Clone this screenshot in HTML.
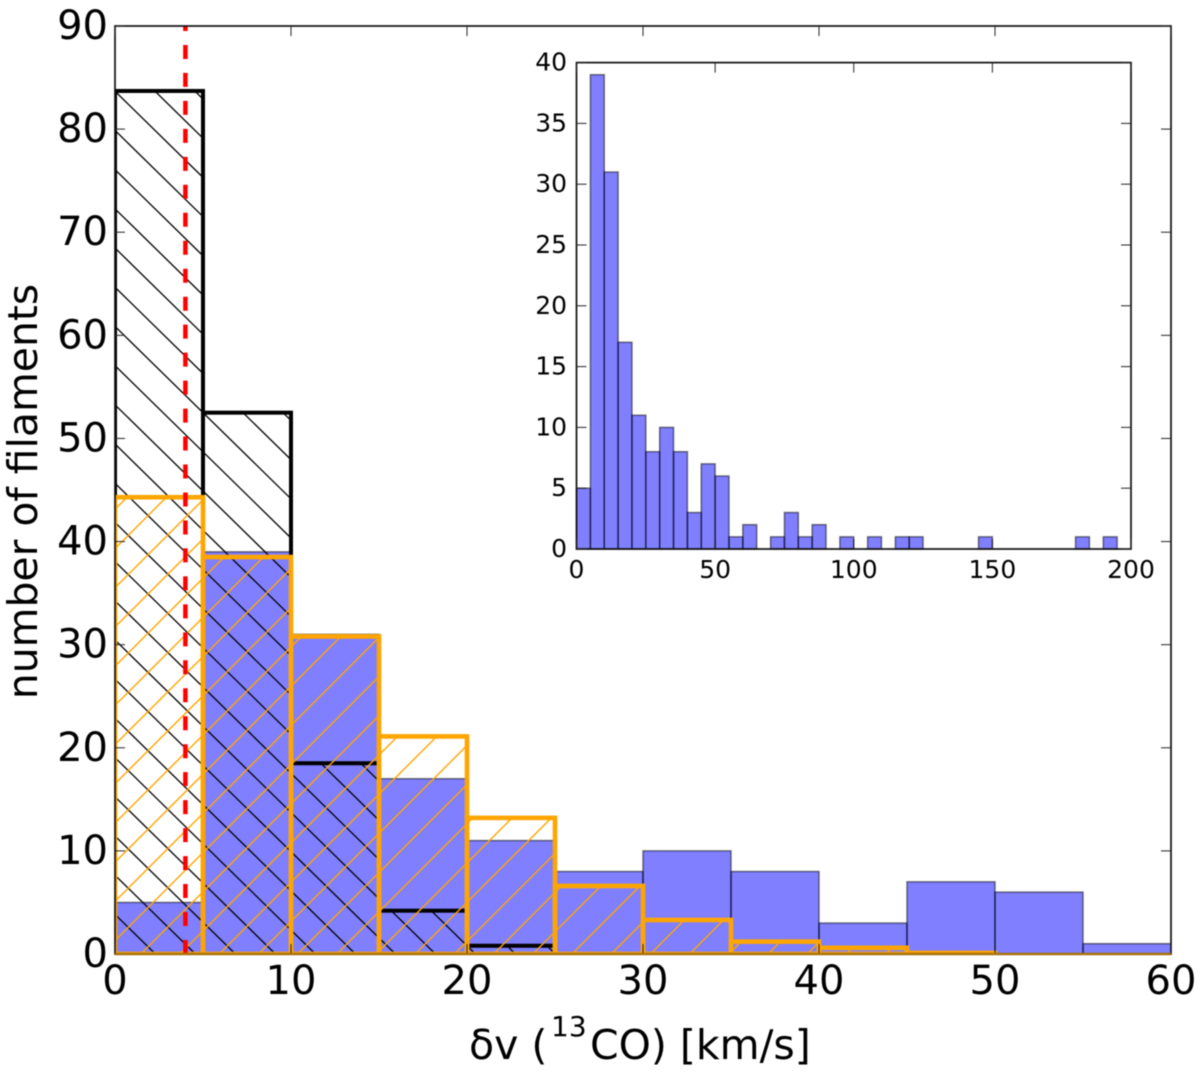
<!DOCTYPE html>
<html lang="en">
<head>
<meta charset="utf-8">
<title>Filament velocity histogram</title>
<style>
html,body{margin:0;padding:0;background:#fff;width:1200px;height:1074px;overflow:hidden;}
svg{display:block;filter:blur(0.45px);}
text{font-family:"DejaVu Sans","Liberation Sans",sans-serif;fill:#000;}
</style>
</head>
<body>
<svg id="chart" xmlns="http://www.w3.org/2000/svg" width="1200" height="1074" viewBox="0 0 1200 1074">
  <defs>
    <clipPath id="clip-black"></clipPath>
    <clipPath id="clip-orange"></clipPath>
    <clipPath id="clip-axes"><rect x="115" y="26" width="1056" height="928"></rect></clipPath>
  </defs>
  <g id="main-plot"></g>
  <g id="inset-plot"></g>
  <text transform="translate(37,491.5) rotate(-90)" text-anchor="middle" font-size="40.9">number of filaments</text>
  <g>
    <text x="469" y="1059" font-size="41">δv (</text>
    <text x="551" y="1036" font-size="28">13</text>
    <text x="590" y="1059" font-size="41">CO) [km/s]</text>
  </g>
</svg>
<script>
// Main histogram values (counts per 5 km/s bin)
const binWidth = 5;
const blueCounts = [5, 39, 31, 17, 11, 8, 10, 8, 3, 7, 6, 1];
const blackCounts = [83.7, 52.5, 18.5, 4.2, 0.8, 0, 0, 0, 0, 0, 0, 0];
const orangeCounts = [44.3, 38.5, 30.8, 21.1, 13.2, 6.6, 3.3, 1.2, 0.6, 0.1, 0, 0];
const thresholdValue = 4;
const mainXTicks = [0, 10, 20, 30, 40, 50, 60];
const mainYTicks = [0, 10, 20, 30, 40, 50, 60, 70, 80, 90];
// Inset histogram values (full range, 5 km/s bins)
const insetCounts = [5, 39, 31, 17, 11, 8, 10, 8, 3, 7, 6, 1, 2, 0, 1, 3, 1, 2, 0, 1, 0, 1, 0, 1, 1, 0, 0, 0, 0, 1, 0, 0, 0, 0, 0, 0, 1, 0, 1, 0];
const insetXTicks = [0, 50, 100, 150, 200];
const insetYTicks = [0, 5, 10, 15, 20, 25, 30, 35, 40];

const NS = 'http://www.w3.org/2000/svg';
function make(tag, attrs, parent) {
  const el = document.createElementNS(NS, tag);
  for (const k in attrs) el.setAttribute(k, attrs[k]);
  parent.appendChild(el);
  return el;
}
const mainBox = { l: 115, r: 1171, t: 26, b: 954 };
const insetBox = { l: 576.5, r: 1131, t: 62.6, b: 549 };
const xMain = v => mainBox.l + v * (mainBox.r - mainBox.l) / 60;
const yMain = v => mainBox.b - v * (mainBox.b - mainBox.t) / 90;
const xInset = v => insetBox.l + v * (insetBox.r - insetBox.l) / 200;
const yInset = v => insetBox.b - v * (insetBox.b - insetBox.t) / 40;

const mainG = document.getElementById('main-plot');
const insetG = document.getElementById('inset-plot');
const plotG = make('g', { 'clip-path': 'url(#clip-axes)' }, mainG);



// Blue bars
blueCounts.forEach((c, i) => {
  const el = make('rect', { x: xMain(i * binWidth), y: yMain(c), width: xMain(binWidth) - xMain(0), height: yMain(0) - yMain(c), fill: '#0000ff', 'fill-opacity': 0.5, stroke: '#000', 'stroke-opacity': 0.5, 'stroke-width': 1.5 }, plotG);
  
  
});

// Hatch clip regions follow the data
function fillClip(id, counts) {
  const clip = document.getElementById(id);
  counts.forEach((c, i) => {
    make('rect', { x: xMain(i * binWidth), y: yMain(c), width: xMain(binWidth) - xMain(0), height: yMain(0) - yMain(c) }, clip);
  });
}
fillClip('clip-black', blackCounts);
fillClip('clip-orange', orangeCounts);

// Black hatch (falling diagonals), endpoints kept inside the axes box
const blackHatch = make('g', { 'clip-path': 'url(#clip-black)', stroke: '#000', 'stroke-width': 1.3, fill: 'none' }, plotG);


const fallSlope = 0.98;
for (let c = 52 - 39.2 * 30; c < 954; c += 39.2) {
  const xa = Math.max(mainBox.l, mainBox.l + (mainBox.t - c) / fallSlope);
  const xb = Math.min(mainBox.r, mainBox.l + (mainBox.b - c) / fallSlope);
  if (xa >= xb) continue;
  make('line', { x1: xa, y1: c + fallSlope * (xa - mainBox.l), x2: xb, y2: c + fallSlope * (xb - mainBox.l) }, blackHatch);
}
// Black bars
blackCounts.forEach((c, i) => {
  if (c <= 0) return;
  const el = make('rect', { x: xMain(i * binWidth), y: yMain(c), width: xMain(binWidth) - xMain(0), height: yMain(0) - yMain(c), fill: 'none', stroke: '#000', 'stroke-width': 4 }, plotG);
  
  
});

// Orange hatch (rising diagonals), endpoints kept inside the axes box
const orangeHatch = make('g', { 'clip-path': 'url(#clip-orange)', stroke: '#ffa500', 'stroke-width': 1.4, fill: 'none' }, plotG);


for (let c = 1019 - 39.2 * 25; c < 2000; c += 39.2) {
  const xa = Math.max(mainBox.l, mainBox.l + (c - mainBox.b));
  const xb = Math.min(mainBox.r, mainBox.l + (c - mainBox.t));
  if (xa >= xb) continue;
  make('line', { x1: xa, y1: c - (xa - mainBox.l), x2: xb, y2: c - (xb - mainBox.l) }, orangeHatch);
}
// Orange bars
orangeCounts.forEach((c, i) => {
  const el = make('rect', { x: xMain(i * binWidth), y: yMain(c), width: xMain(binWidth) - xMain(0), height: yMain(0) - yMain(c), fill: 'none', stroke: '#ffa500', 'stroke-width': 4.6 }, plotG);
  
  
});

// Threshold line
const threshold = make('line', { x1: xMain(thresholdValue), x2: xMain(thresholdValue), y1: mainBox.b, y2: mainBox.t, stroke: '#ff0000', 'stroke-width': 4.5, 'stroke-dasharray': '14 13.97' }, plotG);



function drawAxes(parent, box, xs, ys, xf, yf, tickLen, fontSize, xBase, yRight, yBase, sw, prefix) {
  const frame = make('rect', { x: box.l, y: box.t, width: box.r - box.l, height: box.b - box.t, fill: 'none', stroke: '#111', 'stroke-width': sw }, parent);
  
  
  xs.forEach(v => {
    const px = xf(v);
    const t1 = make('line', { x1: px, x2: px, y1: box.b, y2: box.b - tickLen, stroke: '#222', 'stroke-width': 1 }, parent);
    
    
    const t2 = make('line', { x1: px, x2: px, y1: box.t, y2: box.t + tickLen, stroke: '#222', 'stroke-width': 1 }, parent);
    
    
    const lab = make('text', { x: px, y: xBase, 'text-anchor': 'middle', 'font-size': fontSize }, parent);
    
    
    lab.textContent = String(v);
  });
  ys.forEach(v => {
    const py = yf(v);
    const t1 = make('line', { x1: box.l, x2: box.l + tickLen, y1: py, y2: py, stroke: '#222', 'stroke-width': 1 }, parent);
    
    
    const t2 = make('line', { x1: box.r, x2: box.r - tickLen, y1: py, y2: py, stroke: '#222', 'stroke-width': 1 }, parent);
    
    
    const lab = make('text', { x: yRight, y: py + yBase, 'text-anchor': 'end', 'font-size': fontSize }, parent);
    
    
    lab.textContent = String(v);
  });
}
drawAxes(mainG, mainBox, mainXTicks, mainYTicks, xMain, yMain, 10, 40, 994, 108, 13, 1.7, 'main');

// Orange baseline sits over the bottom axis
const baseLine = make('line', { x1: mainBox.l, x2: mainBox.r, y1: mainBox.b, y2: mainBox.b, stroke: '#a8720c', 'stroke-width': 2.4 }, mainG);



// Inset
const insetBg = make('rect', { x: insetBox.l, y: insetBox.t, width: insetBox.r - insetBox.l, height: insetBox.b - insetBox.t, fill: '#fff' }, insetG);


insetCounts.forEach((c, i) => {
  const el = make('rect', { x: xInset(i * binWidth), y: yInset(c), width: xInset(binWidth) - xInset(0), height: yInset(0) - yInset(c), fill: '#0000ff', 'fill-opacity': 0.5, stroke: '#000', 'stroke-opacity': 0.5, 'stroke-width': 1.5 }, insetG);
  
  
});
drawAxes(insetG, insetBox, insetXTicks, insetYTicks, xInset, yInset, 10, 25, 578, 567, 8, 1.7, 'inset');
</script>
</body>
</html>
